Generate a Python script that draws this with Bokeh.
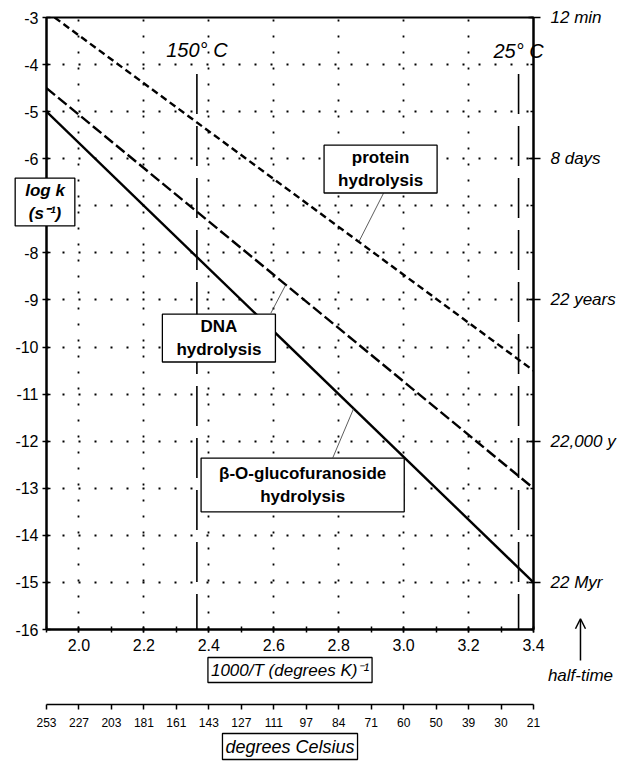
import numpy as np
from bokeh.plotting import figure
from bokeh.models import (FixedTicker, LinearAxis, Range1d, Label, Arrow, OpenHead, Grid,
                          Title, PrintfTickFormatter)
from bokeh.embed import file_html
from bokeh.resources import INLINE

# ---------------- data ----------------
protein_x = [1.925, 3.4]
protein_logk = [-3.0, -10.5]
dna_x = [1.9, 3.4]
dna_logk = [-4.5, -13.0]
gluco_x = [1.9, 3.4]
gluco_logk = [-5.0, -15.0]

y_ticks = [-16, -15, -14, -13, -12, -11, -10, -9, -8, -7, -6, -5, -4, -3]
x_major_ticks = [2.0, 2.2, 2.4, 2.6, 2.8, 3.0, 3.2, 3.4]
x_minor_ticks = [1.9, 2.0, 2.1, 2.2, 2.3, 2.4, 2.5, 2.6, 2.7, 2.8, 2.9, 3.0, 3.1, 3.2, 3.3, 3.4]
half_time_ticks = [-3, -6, -9, -12, -15]
half_time_labels = ["12 min", "8 days", "22 years", "22,000 y", "22 Myr"]
celsius_ticks = [1.9, 2.0, 2.1, 2.2, 2.3, 2.4, 2.5, 2.6, 2.7, 2.8, 2.9, 3.0, 3.1, 3.2, 3.3, 3.4]
celsius_labels = ["253", "227", "203", "181", "161", "143", "127", "111",
                  "97", "84", "71", "60", "50", "39", "30", "21"]
marker_temps_C = [150, 25]
marker_labels = ["150° C", "25° C"]

FONT = "Liberation Sans"

# layout constants (pixels)
W, H = 629, 761
B_LEFT, B_RIGHT, B_TOP, B_BOTTOM = 46, 96, 17, 131
X0, X1, Y0, Y1 = 1.9, 3.4, -16.0, -3.0

# ---------------- main figure ----------------
p = figure(width=W, height=H, x_range=Range1d(X0, X1), y_range=Range1d(Y0, Y1),
           output_backend="svg", toolbar_location=None,
           x_axis_type=None, y_axis_type=None,
           min_border_left=B_LEFT, min_border_right=B_RIGHT,
           min_border_top=B_TOP, min_border_bottom=B_BOTTOM)
p.outline_line_color = "black"
p.outline_line_width = 2

p.add_layout(Grid(dimension=0, ticker=FixedTicker(ticks=x_major_ticks[:-1]),
                  grid_line_color="black", grid_line_width=1.8, grid_line_dash="2 14"))
p.add_layout(Grid(dimension=1, ticker=FixedTicker(ticks=y_ticks[1:-1]),
                  grid_line_color="black", grid_line_width=1.8, grid_line_dash="2 14"))

left = LinearAxis(ticker=FixedTicker(ticks=y_ticks),
                  major_label_overrides={t: ("" if t == -7 else str(t)) for t in y_ticks},
                  axis_line_width=2, major_tick_in=4, major_tick_out=4,
                  major_tick_line_width=1.5, major_label_standoff=4,
                  major_label_text_font=FONT, major_label_text_font_size="16px",
                  major_label_text_color="black")
p.add_layout(left, "left")

bottom = LinearAxis(ticker=FixedTicker(ticks=x_major_ticks, minor_ticks=x_minor_ticks),
                    formatter=PrintfTickFormatter(format="%.1f"),
                    axis_line_width=2, major_tick_in=3, major_tick_out=3,
                    minor_tick_in=3, minor_tick_out=3,
                    major_tick_line_width=1.5, minor_tick_line_width=1.5,
                    major_label_standoff=6,
                    major_label_text_font=FONT, major_label_text_font_size="16px",
                    major_label_text_color="black")
p.add_layout(bottom, "below")

t1 = Title(text="1000/T (degrees K)⁻¹", align="center", text_font=FONT,
           text_font_size="17px", text_font_style="italic", text_color="black",
           border_line_color="black", border_line_width=1.3, background_fill_color="white",
           padding=3, standoff=4, offset=0)
p.add_layout(t1, "below")

# blank spacer axis (no line, no labels) that keeps the Celsius scale at its place
spacer = LinearAxis(ticker=FixedTicker(ticks=[2.6]), major_label_overrides={2.6: ""},
                    axis_line_color=None, major_tick_line_color=None,
                    major_tick_in=0, major_tick_out=20, major_label_standoff=0,
                    major_label_text_font_size="1px")
p.add_layout(spacer, "below")

cel_axis = LinearAxis(ticker=FixedTicker(ticks=celsius_ticks),
                      major_label_overrides={t: lab for t, lab in zip(celsius_ticks, celsius_labels)},
                      axis_line_width=1.5, major_tick_in=0, major_tick_out=5,
                      major_tick_line_width=1.5, major_label_standoff=8,
                      major_label_text_font=FONT, major_label_text_font_size="12px",
                      major_label_text_color="black")
p.add_layout(cel_axis, "below")

t2 = Title(text="degrees Celsius", align="center", text_font=FONT,
           text_font_size="18px", text_font_style="italic", text_color="black",
           border_line_color="black", border_line_width=1.3, background_fill_color="white",
           padding=3, standoff=4, offset=0)
p.add_layout(t2, "below")

right = LinearAxis(ticker=FixedTicker(ticks=half_time_ticks, minor_ticks=y_ticks),
                   major_label_overrides={t: lab for t, lab in zip(half_time_ticks, half_time_labels)},
                   axis_line_width=2, major_tick_in=5, major_tick_out=7,
                   minor_tick_in=3, minor_tick_out=0,
                   major_tick_line_width=1.5, minor_tick_line_width=1.5,
                   major_label_standoff=10,
                   major_label_text_font=FONT, major_label_text_font_size="17px",
                   major_label_text_font_style="italic", major_label_text_color="black")
p.add_layout(right, "right")

marker_x = [1000.0 / (t + 273.15) for t in marker_temps_C]
p.segment(x0=marker_x, x1=marker_x, y0=[-4.2] * 2, y1=[Y0] * 2,
          line_color="black", line_width=1.6, line_dash="40 12")
p.add_layout(Label(x=marker_x[0], y=-3.7, text=marker_labels[0], text_align="center",
                   text_baseline="middle", text_font=FONT, text_font_size="20px",
                   text_font_style="italic", text_color="black"))

p.line(protein_x, protein_logk, line_color="black", line_width=2.4, line_dash="7 4")
p.line(dna_x, dna_logk, line_color="black", line_width=2.4, line_dash="11 4")
p.line(gluco_x, gluco_logk, line_color="black", line_width=2.4)

leader_box = [(2.938, -6.733), (2.591, -9.28), (2.782, -12.35)]
leader_line_x = [2.862, 2.637, 2.846]
series = [(protein_x, protein_logk), (dna_x, dna_logk), (gluco_x, gluco_logk)]
lx0, ly0, lx1, ly1 = [], [], [], []
for (bx, by), sx, (xs, ys) in zip(leader_box, leader_line_x, series):
    lx0.append(bx); ly0.append(by)
    lx1.append(sx); ly1.append(float(np.interp(sx, xs, ys)))
p.segment(x0=lx0, y0=ly0, x1=lx1, y1=ly1, line_color="#333333", line_width=0.8)


def boxed(x, y, text, size, style, pad, **kw):
    return Label(x=x, y=y, text=text, text_align="center", text_baseline="middle",
                 text_font=FONT, text_font_size=size, text_font_style=style, text_color="black",
                 border_line_color="black", border_line_width=1.3,
                 background_fill_color="white", padding=pad, **kw)


p.add_layout(boxed(2.929, -6.22, "protein\nhydrolysis", "17px", "bold",
                   dict(left=14, right=14, top=3, bottom=3)))
p.add_layout(boxed(2.431, -9.81, "DNA\nhydrolysis", "17px", "bold",
                   dict(left=14, right=14, top=3, bottom=3)))
p.add_layout(boxed(2.689, -12.93, "β-O-glucofuranoside\nhydrolysis", "17px", "bold",
                   dict(left=18, right=18, top=6, bottom=6)))

# ---------------- transparent overlay (same data scale) for notes that cross the plot edges ----------------
ppx = (W - B_LEFT - B_RIGHT) / (X1 - X0)
ppy = (H - B_TOP - B_BOTTOM) / (Y1 - Y0)
ov = figure(width=W, height=H,
            x_range=Range1d(X0 - B_LEFT / ppx, X1 + B_RIGHT / ppx),
            y_range=Range1d(Y0 - B_BOTTOM / ppy, Y1 + B_TOP / ppy),
            output_backend="svg", toolbar_location=None,
            x_axis_type=None, y_axis_type=None,
            min_border_left=0, min_border_right=0, min_border_top=0, min_border_bottom=0,
            styles={"position": "absolute", "top": "0px", "left": "0px"})
ov.outline_line_color = None
ov.background_fill_color = None
ov.border_fill_color = None

ov.add_layout(boxed(1.8954, -6.913, "log k\n(s⁻¹)", "17px", "bold italic",
                    dict(left=10, right=10, top=3, bottom=3)))
ov.add_layout(Label(x=marker_x[1], y=-3.7, text=marker_labels[1], text_align="center",
                    text_baseline="middle", text_font=FONT, text_font_size="20px",
                    text_font_style="italic", text_color="black"))
ov.add_layout(Arrow(x_start=3.5447, y_start=-16.636, x_end=3.5447, y_end=-15.75,
                    line_width=1.5, end=OpenHead(size=10, line_width=1.5)))
ov.add_layout(Label(x=3.5447, y=-16.954, text="half-time", text_align="center",
                    text_baseline="middle", text_font=FONT, text_color="black",
                    text_font_size="17px", text_font_style="italic"))

open("out.html", "w").write(file_html([p, ov], INLINE))
